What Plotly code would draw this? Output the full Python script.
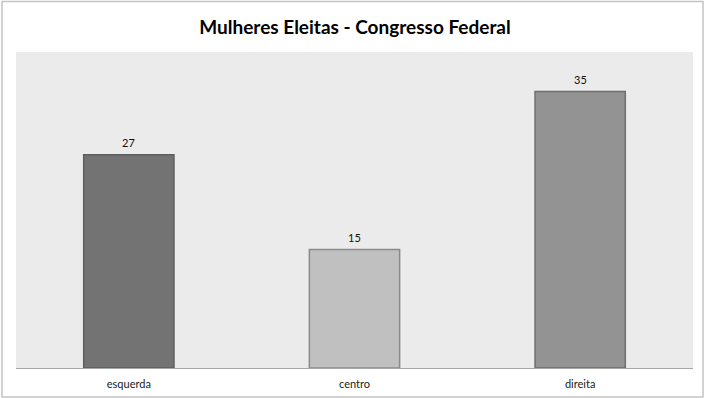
import plotly.graph_objects as go

categories = ["esquerda", "centro", "direita"]
values = [27, 15, 35]
bar_colors = ["#737373", "#c0c0c0", "#939393"]
line_colors = ["#5e5e5e", "#8a8a8a", "#6e6e6e"]

FONT = "Lato, Open Sans, sans-serif"

fig = go.Figure()
fig.add_trace(go.Bar(
    x=categories, y=values,
    marker=dict(color=bar_colors, line=dict(color=line_colors, width=1.5)),
    cliponaxis=False,
))
for c, v in zip(categories, values):
    fig.add_annotation(x=c, y=v, text=str(v), showarrow=False, yanchor="bottom", yshift=4,
                       font=dict(family=FONT, size=11, color="#111111"))

W, H = 710, 398
l, r, t, b = 16, 17, 52, 30
pw, ph = W - l - r, H - t - b
def px(x): return (x - l) / pw
def py(y): return (H - b - y) / ph

fig.add_shape(type="rect", xref="paper", yref="paper",
              x0=px(2), x1=px(703), y0=py(397), y1=py(1.5),
              line=dict(color="#c4c4c4", width=1.5), fillcolor="rgba(0,0,0,0)", layer="below")

fig.update_layout(
    width=W, height=H,
    margin=dict(l=l, r=r, t=t, b=b, autoexpand=False),
    paper_bgcolor="white", plot_bgcolor="#ebebeb",
    bargap=0.6,
    showlegend=False,
    title=dict(text="<b>Mulheres Eleitas - Congresso Federal</b>", x=0.5, xanchor="center",
               y=1 - 27 / H, yanchor="middle",
               font=dict(family=FONT, size=19, color="#000000")),
    xaxis=dict(showgrid=False, showline=True, linecolor="#a8a8a8", linewidth=1.2,
               ticks="", ticklabelstandoff=6, automargin=False,
               tickfont=dict(family=FONT, size=11, color="#222222")),
    yaxis=dict(range=[0, 40], showgrid=False, showticklabels=False, zeroline=False, ticks="",
               automargin=False),
)
fig.write_html("out.html")
